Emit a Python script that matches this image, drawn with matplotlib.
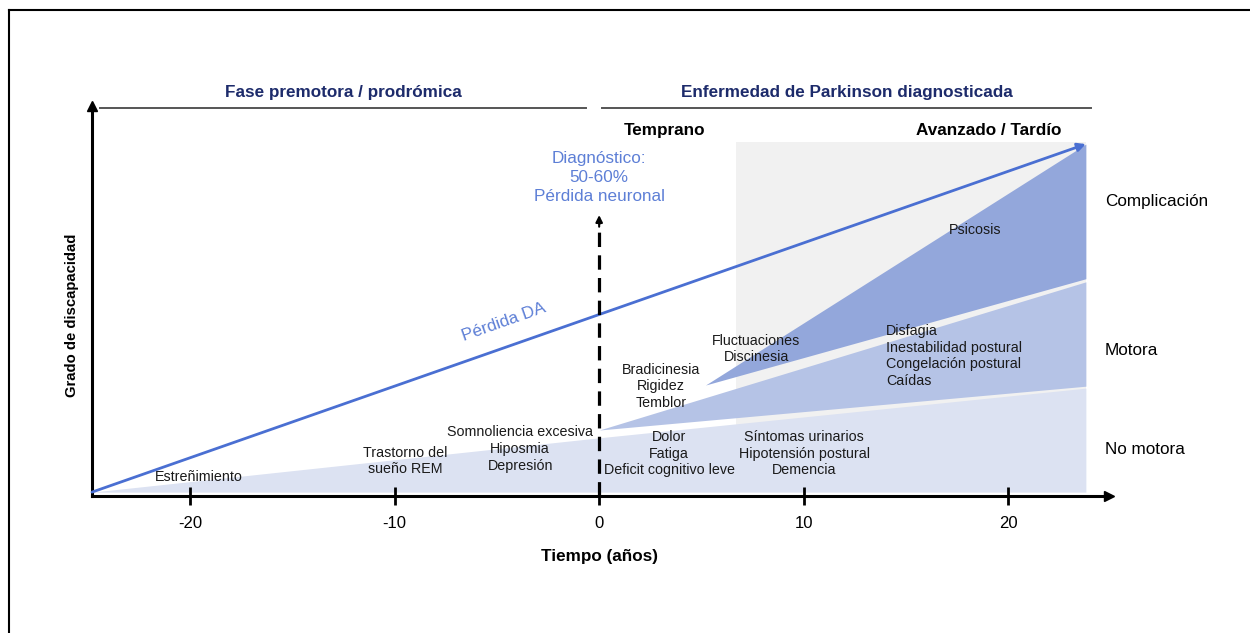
import matplotlib
matplotlib.use("Agg")
import matplotlib.pyplot as plt
from matplotlib.lines import Line2D
import numpy as np

plt.rcParams['font.family'] = ['Liberation Sans', 'DejaVu Sans']

# ---------------- data ----------------
ticks = [-20, -10, 0, 10, 20]
tick_labels = ['-20', '-10', '0', '10', '20']

da_time = [-24.8, 23.8]
da_level = [1.0, 90.7]

nonmotor_time = [-24.8, 0.0, 23.8]
nonmotor_top = [1.0, 15.0, 27.8]
nonmotor_base = [1.0, 1.0, 1.0]

motor_time = [0.0, 23.8]
motor_bottom = [17.0, 28.3]
motor_top = [17.0, 55.2]

compl_time = [5.2, 23.8]
compl_bottom = [28.6, 56.0]
compl_top = [28.6, 90.7]

advanced_span = [6.7, 23.8]
advanced_height = 91.2
diagnosis_time = 0.0
diagnosis_arrow_top = 72.4

# ---------------- colours ----------------
c_light = '#dce2f2'
c_mid = '#b5c3e6'
c_dark = '#93a7db'
c_gray = '#f1f1f1'
c_blue = '#4a6fd2'
c_blue_txt = '#5d7fd6'
c_navy = '#1d2b6b'

W, H = 1250, 633
fig = plt.figure(figsize=(W / 100, H / 100), dpi=100)

# axes placed so that axis origin sits at px (92, 496)
px_per_year = 20.45
px_per_unit = 3.88
x0_px, y0_px = 92, 496
xmin, xmax = -24.8, 24.8
ax_left = x0_px / W
ax_bottom = (H - y0_px) / H
ax_w = (xmax - xmin) * px_per_year / W
ax_h = 100 * px_per_unit / H
ax = fig.add_axes([ax_left, ax_bottom, ax_w, ax_h])
ax.set_xlim(xmin, xmax)
ax.set_ylim(0, 100)
ax.patch.set_alpha(0)

for s in ['top', 'right']:
    ax.spines[s].set_visible(False)
for s in ['left', 'bottom']:
    ax.spines[s].set_linewidth(2.2)
    ax.spines[s].set_color('black')
ax.set_yticks([])
ax.set_xticks(ticks)
ax.set_xticklabels(tick_labels, fontsize=12)
ax.tick_params(axis='x', direction='inout', length=13, width=2.0, pad=8)

# axis arrowheads
ax.plot([xmax + 0.15], [0], marker='>', ms=7, color='black', clip_on=False, zorder=6)
ax.plot([xmin], [100.5], marker='^', ms=7, color='black', clip_on=False, zorder=6)

# gray advanced-stage background
ax.fill_between(advanced_span, [1.0, 1.0], [advanced_height, advanced_height],
                color=c_gray, lw=0, zorder=0)

# wedges
ax.fill_between(nonmotor_time, nonmotor_base, nonmotor_top, color=c_light, lw=0, zorder=1)
ax.fill_between(motor_time, motor_bottom, motor_top, color=c_mid, lw=0, zorder=1)
ax.fill_between(compl_time, compl_bottom, compl_top, color=c_dark, lw=0, zorder=1)

# DA loss line with arrow
ax.annotate('', xy=(da_time[1], da_level[1]), xytext=(da_time[0], da_level[0]),
            arrowprops=dict(arrowstyle='-|>', color=c_blue, lw=2.0,
                            mutation_scale=12, shrinkA=0, shrinkB=0), zorder=3)
ax.text(-4.65, 44.8, 'Pérdida DA', color=c_blue_txt, fontsize=12.3,
        rotation=19.5, ha='center', va='center', rotation_mode='anchor')

# diagnosis dashed arrow
ax.plot([diagnosis_time, diagnosis_time], [0, diagnosis_arrow_top - 1.5],
        color='black', lw=2.3, dashes=(4.5, 2.6), zorder=4)
ax.annotate('', xy=(diagnosis_time, diagnosis_arrow_top),
            xytext=(diagnosis_time, diagnosis_arrow_top - 3),
            arrowprops=dict(arrowstyle='-|>', color='black', lw=1.5,
                            mutation_scale=10, shrinkA=0, shrinkB=0), zorder=4)


def lines(x, y_first, texts, step=4.3, **kw):
    for i, t in enumerate(texts):
        ax.text(x, y_first - i * step, t, clip_on=False, **kw)


lines(0, 86.9, ['Diagnóstico:', '50-60%', 'Pérdida neuronal'], step=4.9,
      color=c_blue_txt, fontsize=12.3, ha='center', va='center')

# header phases
ax.text(-12.5, 103.9, 'Fase premotora / prodrómica', color=c_navy, fontsize=12.3,
        fontweight='bold', ha='center', va='center', clip_on=False)
ax.text(12.1, 103.9, 'Enfermedad de Parkinson diagnosticada', color=c_navy,
        fontsize=12.3, fontweight='bold', ha='center', va='center', clip_on=False)
ax.plot([-24.4, -0.64], [100, 100], color='#555555', lw=1.4, clip_on=False)
ax.plot([0.15, 24.06], [100, 100], color='#555555', lw=1.4, clip_on=False)

ax.text(3.18, 94.3, 'Temprano', fontsize=12.3, fontweight='bold', ha='center',
        va='center', clip_on=False)
ax.text(19.07, 94.3, 'Avanzado / Tardío', fontsize=12.3, fontweight='bold',
        ha='center', va='center', clip_on=False)

# right labels
for y, t in [(76.0, 'Complicación'), (37.6, 'Motora'), (12.1, 'No motora')]:
    ax.text(24.74, y, t, fontsize=12.3, ha='left', va='center', clip_on=False)

# inner labels
kw = dict(fontsize=10.3, va='center', color='#1a1a1a')
ax.text(-19.56, 4.9, 'Estreñimiento', ha='center', **kw)
lines(-9.49, 11.1, ['Trastorno del', 'sueño REM'], step=4.1, ha='center', **kw)
lines(-3.86, 16.5, ['Somnoliencia excesiva', 'Hiposmia', 'Depresión'], step=4.4,
      ha='center', **kw)
lines(3.03, 32.5, ['Bradicinesia', 'Rigidez', 'Temblor'], step=4.25, ha='center', **kw)
lines(7.68, 39.9, ['Fluctuaciones', 'Discinesia'], step=4.1, ha='center', **kw)
ax.text(18.39, 68.6, 'Psicosis', ha='center', **kw)
lines(14.03, 42.5, ['Disfagia', 'Inestabilidad postural', 'Congelación postural',
                    'Caídas'], step=4.3, ha='left', **kw)
lines(3.42, 15.2, ['Dolor', 'Fatiga', 'Deficit cognitivo leve'], step=4.3,
      ha='center', **kw)
lines(10.02, 15.2, ['Síntomas urinarios', 'Hipotensión postural', 'Demencia'],
      step=4.3, ha='center', **kw)

# axis titles
ax.text(-25.8, 46.6, 'Grado de discapacidad', fontsize=10.7, fontweight='bold',
        rotation=90, ha='center', va='center', clip_on=False)
ax.text(0, -15.7, 'Tiempo (años)', fontsize=12.3, fontweight='bold',
        ha='center', va='center', clip_on=False)

# outer frame (top and left only)
fig.add_artist(Line2D([8.5 / W, 1.0], [1 - 9.5 / H, 1 - 9.5 / H],
                      transform=fig.transFigure, color='black', lw=1.5))
fig.add_artist(Line2D([8.5 / W, 8.5 / W], [0, 1 - 9.5 / H],
                      transform=fig.transFigure, color='black', lw=1.5))

fig.savefig('out.png', dpi=100, facecolor='white')
